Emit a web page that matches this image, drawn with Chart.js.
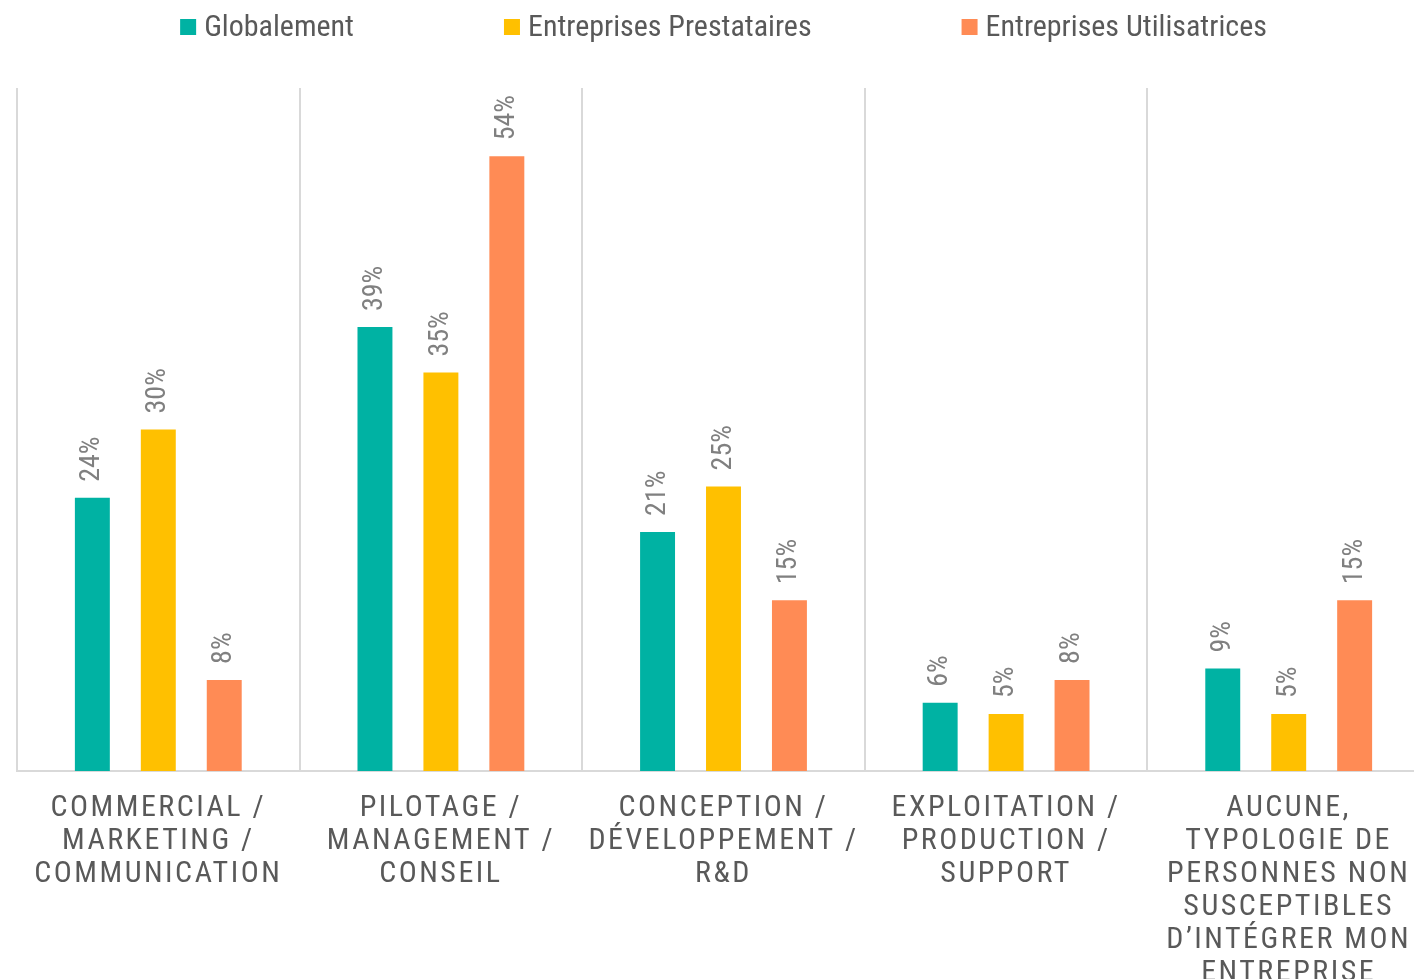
<!DOCTYPE html>
<html>
<head>
<meta charset="utf-8">
<script src="https://cdn.jsdelivr.net/npm/chart.js@4/dist/chart.umd.min.js"></script>
<style>
  html, body { margin: 0; padding: 0; background: #fff; overflow: hidden; }
  #wrap { position: relative; width: 1432px; height: 979px; }
</style>
</head>
<body>
<div id="wrap"><canvas id="chart"></canvas></div>
<script>
const categories = [
  ['COMMERCIAL /', 'MARKETING /', 'COMMUNICATION'],
  ['PILOTAGE /', 'MANAGEMENT /', 'CONSEIL'],
  ['CONCEPTION /', 'DÉVELOPPEMENT /', 'R&D'],
  ['EXPLOITATION /', 'PRODUCTION /', 'SUPPORT'],
  ['AUCUNE,', 'TYPOLOGIE DE', 'PERSONNES NON', 'SUSCEPTIBLES', 'D’INTÉGRER MON', 'ENTREPRISE']
];
const seriesNames = ['Globalement', 'Entreprises Prestataires', 'Entreprises Utilisatrices'];
const globalement = [24, 39, 21, 6, 9];
const prestataires = [30, 35, 25, 5, 5];
const utilisatrices = [8, 54, 15, 8, 15];
const colors = ['#00B2A3', '#FFC000', '#FF8B55'];

const FONT = "'Liberation Sans Narrow', 'Arial Narrow', 'Roboto Condensed', sans-serif";

// rotated value labels above bars
const valueLabels = {
  id: 'valueLabels',
  afterDatasetsDraw(chart) {
    const ctx = chart.ctx;
    ctx.save();
    ctx.font = '28px ' + FONT;
    ctx.fillStyle = '#808080';
    ctx.textAlign = 'left';
    ctx.textBaseline = 'middle';
    chart.data.datasets.forEach((ds, i) => {
      chart.getDatasetMeta(i).data.forEach((bar, j) => {
        ctx.save();
        ctx.translate(bar.x, bar.y - 16);
        ctx.rotate(-Math.PI / 2);
        ctx.fillText(ds.data[j] + '%', 0, 0);
        ctx.restore();
      });
    });
    ctx.restore();
  }
};

// legend spread out like the original
const topLegend = {
  id: 'topLegend',
  afterDraw(chart) {
    const ctx = chart.ctx;
    const gap = 150, box = 16, textGap = 8;
    ctx.save();
    ctx.font = '30px ' + FONT;
    ctx.textBaseline = 'middle';
    ctx.textAlign = 'left';
    const widths = chart.data.datasets.map(d => ctx.measureText(d.label).width);
    const total = widths.reduce((a, w) => a + box + textGap + w, 0) + gap * (widths.length - 1);
    let x = (chart.chartArea.left + chart.chartArea.right) / 2 - total / 2;
    const y = 27;
    chart.data.datasets.forEach((d, i) => {
      ctx.fillStyle = d.backgroundColor;
      ctx.fillRect(x, y - box / 2, box, box);
      ctx.fillStyle = '#595959';
      ctx.fillText(d.label, x + box + textGap, y + 1);
      x += box + textGap + widths[i] + gap;
    });
    ctx.restore();
  }
};

// letter-spaced category labels
const spacedTicks = {
  id: 'spacedTicks',
  beforeDraw(chart) {
    const sx = chart.scales.x;
    if (sx && !sx._spaced) {
      const orig = sx.drawLabels.bind(sx);
      sx.drawLabels = function (area) {
        const c = this.ctx;
        c.save();
        c.letterSpacing = '2.5px';
        orig(area);
        c.restore();
      };
      sx._spaced = true;
    }
  }
};

new Chart(document.getElementById('chart'), {
  type: 'bar',
  data: {
    labels: categories,
    datasets: [
      { label: seriesNames[0], data: globalement, backgroundColor: colors[0] },
      { label: seriesNames[1], data: prestataires, backgroundColor: colors[1] },
      { label: seriesNames[2], data: utilisatrices, backgroundColor: colors[2] }
    ]
  },
  options: {
    responsive: true,
    maintainAspectRatio: false,
    animation: false,
    datasets: { bar: { categoryPercentage: 0.7, barPercentage: 0.53 } },
    layout: { padding: { top: 88, left: 17, right: 2, bottom: 0 } },
    plugins: {
      legend: { display: false },
      tooltip: { enabled: false }
    },
    scales: {
      x: {
        afterFit(scale) { scale.height = 208; },
        grid: { display: true, offset: true, color: '#D9D9D9', lineWidth: 2, drawTicks: false },
        border: { display: true, color: '#D9D9D9', width: 2 },
        ticks: {
          color: '#595959',
          font: { family: FONT, size: 30, lineHeight: 1.1 },
          padding: 21,
          autoSkip: false,
          maxRotation: 0,
          minRotation: 0
        }
      },
      y: {
        display: false,
        min: 0,
        max: 60
      }
    }
  },
  plugins: [valueLabels, topLegend, spacedTicks]
});
</script>
</body>
</html>
